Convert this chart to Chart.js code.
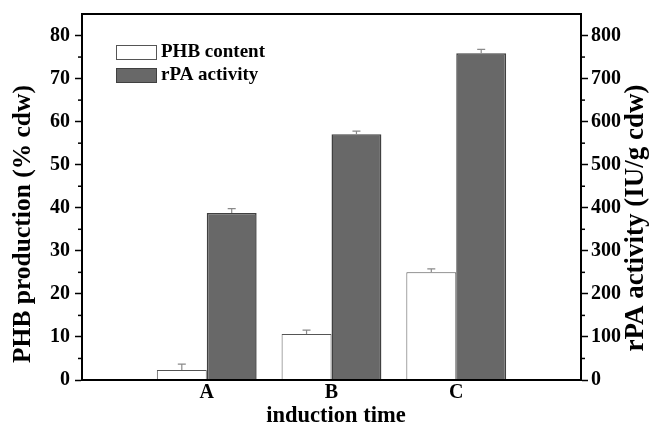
<!DOCTYPE html>
<html>
<head>
<meta charset="utf-8">
<script src="https://cdn.jsdelivr.net/npm/chart.js@4.4.0/dist/chart.umd.min.js"></script>
<style>
html,body{margin:0;padding:0;background:#fff;}
#wrap{width:651px;height:425px;position:relative;}
</style>
</head>
<body>
<div id="wrap"><canvas id="c" width="651" height="425"></canvas></div>
<script>
// Data
const categories = ['', 'A', 'B', 'C', ''];
const phbContent = [null, 2.3, 10.7, 25.0, null];
const phbError = [null, 1.4, 0.9, 0.8, null];
const rpaActivity = [null, 388, 571, 759, null];
const rpaError = [null, 10, 7, 9, null];
const leftTicks = [0, 10, 20, 30, 40, 50, 60, 70, 80];
const rightTicks = [0, 100, 200, 300, 400, 500, 600, 700, 800];

const FONT = "'Liberation Serif', 'DejaVu Serif', serif";

const decor = {
  id: 'decor',
  afterDatasetsDraw(chart) {
    const ctx = chart.ctx;
    ctx.save();
    ctx.strokeStyle = '#8a8a8a';
    ctx.lineWidth = 1.2;
    chart.data.datasets.forEach((ds, di) => {
      const meta = chart.getDatasetMeta(di);
      const sc = chart.scales[ds.yAxisID];
      ds.data.forEach((v, i) => {
        if (v == null) return;
        const el = meta.data[i];
        const e = ds.errors[i];
        const yTop = sc.getPixelForValue(v + e);
        const yv = sc.getPixelForValue(v);
        ctx.beginPath();
        ctx.moveTo(el.x, yv);
        ctx.lineTo(el.x, yTop);
        ctx.moveTo(el.x - 4, yTop);
        ctx.lineTo(el.x + 4, yTop);
        ctx.stroke();
      });
    });
    ctx.restore();
  },
  afterDraw(chart) {
    const ctx = chart.ctx;
    const ca = chart.chartArea;
    ctx.save();
    ctx.strokeStyle = '#000';
    ctx.lineWidth = 2;
    ctx.strokeRect(ca.left, ca.top, ca.right - ca.left, ca.bottom - ca.top);
    ctx.lineWidth = 1.5;
    const yl = chart.scales.y, yr = chart.scales.y1;
    for (let k = 0; k < leftTicks.length - 1; k++) {
      const v = (leftTicks[k] + leftTicks[k + 1]) / 2;
      const p = yl.getPixelForValue(v);
      ctx.beginPath(); ctx.moveTo(ca.left - 4, p); ctx.lineTo(ca.left, p); ctx.stroke();
    }
    for (let k = 0; k < rightTicks.length - 1; k++) {
      const v = (rightTicks[k] + rightTicks[k + 1]) / 2;
      const p = yr.getPixelForValue(v);
      ctx.beginPath(); ctx.moveTo(ca.right, p); ctx.lineTo(ca.right + 4, p); ctx.stroke();
    }
    ctx.fillStyle = '#000';
    ctx.textAlign = 'center';
    ctx.textBaseline = 'middle';
    ctx.font = "bold 25.5px " + FONT;
    ctx.save();
    ctx.translate(23, 224);
    ctx.rotate(-Math.PI / 2);
    ctx.fillText('PHB production (% cdw)', 0, 0);
    ctx.restore();
    ctx.font = "bold 27px " + FONT;
    ctx.save();
    ctx.translate(636, 218);
    ctx.rotate(-Math.PI / 2);
    ctx.fillText('rPA activity (IU/g cdw)', 0, 0);
    ctx.restore();
    ctx.font = "bold 22.5px " + FONT;
    ctx.fillText('induction time', 336, 416);
    const items = chart.data.datasets;
    ctx.textAlign = 'left';
    ctx.font = "bold 19px " + FONT;
    items.forEach((ds, i) => {
      const y = 45 + i * 23;
      ctx.fillStyle = ds.backgroundColor;
      ctx.fillRect(116, y, 40, 14);
      ctx.strokeStyle = ds.borderColor;
      ctx.lineWidth = 1;
      ctx.strokeRect(116.5, y + 0.5, 40, 14);
      ctx.fillStyle = '#000';
      ctx.fillText(ds.label, 161, y + 7.5);
    });
    ctx.restore();
  }
};

function fitY(width) {
  return function (s) { s.width = width; s.paddingTop = 0; s.paddingBottom = 0; };
}

new Chart(document.getElementById('c'), {
  type: 'bar',
  data: {
    labels: categories,
    datasets: [
      {
        label: 'PHB content',
        data: phbContent,
        errors: phbError,
        yAxisID: 'y',
        backgroundColor: '#ffffff',
        borderColor: '#555555',
        borderWidth: 1,
        categoryPercentage: 0.8,
        barPercentage: 1.0
      },
      {
        label: 'rPA activity',
        data: rpaActivity,
        errors: rpaError,
        yAxisID: 'y1',
        backgroundColor: '#686868',
        borderColor: '#404040',
        borderWidth: 1.5,
        categoryPercentage: 0.8,
        barPercentage: 1.0
      }
    ]
  },
  options: {
    responsive: false,
    animation: false,
    layout: { padding: { top: 14, left: 0, right: 0, bottom: 0 } },
    plugins: { legend: { display: false }, tooltip: { enabled: false } },
    scales: {
      x: {
        type: 'category',
        offset: false,
        grid: { display: false, drawTicks: false },
        border: { display: true, color: '#000', width: 2 },
        ticks: {
          color: '#000',
          font: { family: FONT, size: 20, weight: 'bold' },
          padding: 1,
          maxRotation: 0,
          autoSkip: false
        },
        afterFit(s) { s.height = 45; s.paddingLeft = 0; s.paddingRight = 0; }
      },
      y: {
        position: 'left',
        min: 0, max: 85,
        grid: { drawOnChartArea: false, tickLength: 7, tickWidth: 1.5, tickColor: '#000' },
        border: { display: true, color: '#000', width: 2 },
        ticks: {
          stepSize: 10, includeBounds: false,
          color: '#000', padding: 5,
          font: { family: FONT, size: 20, weight: 'bold' }
        },
        afterFit: fitY(82)
      },
      y1: {
        position: 'right',
        min: 0, max: 850,
        grid: { drawOnChartArea: false, tickLength: 7, tickWidth: 1.5, tickColor: '#000' },
        border: { display: true, color: '#000', width: 2 },
        ticks: {
          stepSize: 100, includeBounds: false,
          color: '#000', padding: 3,
          font: { family: FONT, size: 20, weight: 'bold' }
        },
        afterFit: fitY(70)
      }
    }
  },
  plugins: [decor]
});
</script>
</body>
</html>
